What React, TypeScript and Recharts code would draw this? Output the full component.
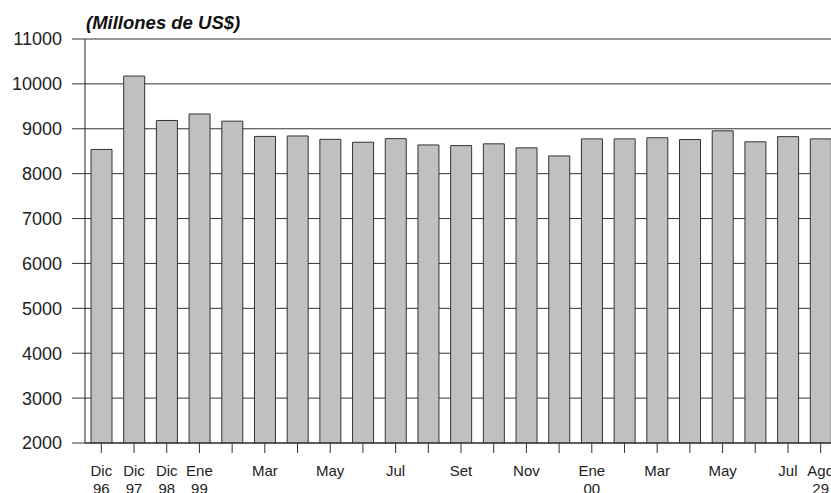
import React from 'react';
import { BarChart, Bar, XAxis, YAxis, CartesianGrid } from 'recharts';

const categories = ['Dic96','Dic97','Dic98','Ene99','Feb99','Mar99','Abr99','May99','Jun99','Jul99','Ago99','Set99','Oct99','Nov99','Dic99','Ene00','Feb00','Mar00','Abr00','May00','Jun00','Jul00','Ago29'];
const values = [8540, 10175, 9185, 9330, 9170, 8830, 8840, 8765, 8700, 8780, 8640, 8625, 8665, 8575, 8395, 8775, 8775, 8800, 8760, 8955, 8710, 8825, 8775];
const tickLine1 = ['Dic','Dic','Dic','Ene','','Mar','','May','','Jul','','Set','','Nov','','Ene','','Mar','','May','','Jul','Ago'];
const tickLine2 = ['96','97','98','99','','','','','','','','','','','','00','','','','','','','29'];
const yTicks = [2000, 3000, 4000, 5000, 6000, 7000, 8000, 9000, 10000, 11000];
const title = '(Millones de US$)';

const data = categories.map((c, i) => ({ cat: c, value: values[i] }));

const FONT = '"Liberation Sans", Arial, Helvetica, sans-serif';

const XTick = (props: any) => {
  const { x, y, payload } = props;
  const i = payload.index;
  return (
    <g>
      <text x={x} y={y + 21} textAnchor="middle" fontSize={15} fill="#222" fontFamily={FONT}>{tickLine1[i]}</text>
      <text x={x} y={y + 39} textAnchor="middle" fontSize={15} fill="#222" fontFamily={FONT}>{tickLine2[i]}</text>
    </g>
  );
};

export default function App() {
  return (
    <div style={{ position: 'fixed', left: 0, top: 0, width: 831, height: 493, overflow: 'hidden', background: '#fff' }}>
      <div style={{ position: 'absolute', left: 86, top: 11, fontFamily: FONT, fontSize: 18.5, fontWeight: 'bold', fontStyle: 'italic', color: '#111', lineHeight: '24px', whiteSpace: 'nowrap' }}>{title}</div>
      <BarChart width={850} height={510} data={data} margin={{ top: 39, right: 13, left: 0, bottom: 0 }} barCategoryGap={6}>
        <CartesianGrid vertical={false} stroke="#333" />
        <XAxis dataKey="cat" interval={0} tick={<XTick />} tickSize={10} tickLine={{ stroke: '#333' }} axisLine={{ stroke: '#222' }} height={67} />
        <YAxis domain={[2000, 11000]} ticks={yTicks} width={85} tickSize={13} tickMargin={10} tickLine={{ stroke: '#333' }} axisLine={{ stroke: '#222' }} tick={{ fontSize: 18, fill: '#222', fontFamily: FONT }} interval={0} allowDataOverflow />
        <Bar dataKey="value" fill="#c0c0c0" stroke="#333" strokeWidth={1} isAnimationActive={false} />
      </BarChart>
    </div>
  );
}
